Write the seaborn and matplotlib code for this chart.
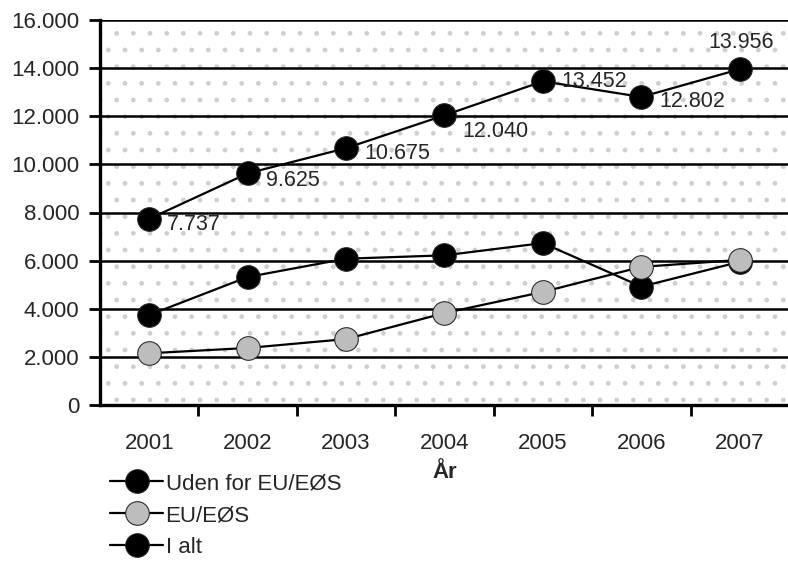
import numpy as np
import pandas as pd
import matplotlib
matplotlib.use("Agg")
import matplotlib.pyplot as plt
import seaborn as sns
from matplotlib.patches import Rectangle
from matplotlib.ticker import FuncFormatter, FixedLocator

# ==================================
# DATA
# ==================================

years = ["2001", "2002", "2003", "2004", "2005", "2006", "2007"]
uden_eu = [3740, 5320, 6080, 6220, 6730, 4920, 5950]
eu_eos = [2150, 2370, 2740, 3820, 4700, 5740, 6030]
i_alt = [7737, 9625, 10675, 12040, 13452, 12802, 13956]

series_names = ["Uden for EU/EØS", "EU/EØS", "I alt"]

df = pd.DataFrame({
    "År": years * 3,
    "value": uden_eu + eu_eos + i_alt,
    "serie": np.repeat(series_names, len(years)),
})

# ==================================
# STYLE
# ==================================

sns.set_style("white")
plt.rcParams["font.family"] = ["Liberation Sans", "DejaVu Sans"]

fig = plt.figure(figsize=(7.88, 5.62), dpi=100)
ax = fig.add_axes([100 / 788, 1 - 405 / 562, 689 / 788, 385 / 562])

# speckled background
ax.add_patch(Rectangle((0, 0), 1, 1, transform=ax.transAxes, facecolor="white",
                       hatch=".", edgecolor="#cfcfcf", linewidth=0, zorder=0))

palette = {"Uden for EU/EØS": "black", "EU/EØS": "black", "I alt": "black"}

sns.lineplot(
    data=df, x="År", y="value", hue="serie", style="serie",
    hue_order=["I alt", "Uden for EU/EØS", "EU/EØS"],
    style_order=["I alt", "Uden for EU/EØS", "EU/EØS"],
    palette=palette, markers={"Uden for EU/EØS": "o", "EU/EØS": "o", "I alt": "o"},
    dashes=False, linewidth=1.6, markersize=17, markeredgecolor="#222222",
    ax=ax, zorder=3,
)

# marker fills
face = {"Uden for EU/EØS": "black", "EU/EØS": "#bdbdbd", "I alt": "black"}
for line, name in zip(ax.lines, ["I alt", "Uden for EU/EØS", "EU/EØS"]):
    line.set_markerfacecolor(face[name])

# data labels for total
for i, v in enumerate(i_alt):
    lab = f"{v:,}".replace(",", ".")
    if i == len(i_alt) - 1:
        ax.annotate(lab, (i, v), xytext=(1, 19), textcoords="offset points",
                    ha="center", va="center", fontsize=15.5, zorder=5)
    else:
        dy = {0: -4, 1: -5, 2: -4, 3: -12, 4: 0, 5: -3}[i]
        ax.annotate(lab, (i, v), xytext=(13, dy), textcoords="offset points",
                    ha="left", va="center", fontsize=15.5, zorder=5)

# ==================================
# AXES
# ==================================

ax.set_xlim(-0.5, 6.5)
ax.set_ylim(0, 16000)
ax.set_yticks(np.arange(0, 16001, 2000))
ax.yaxis.set_major_formatter(FuncFormatter(lambda v, p: f"{v:,.0f}".replace(",", ".")))
ax.grid(axis="y", color="black", linewidth=1.8, zorder=1)
ax.grid(axis="x", visible=False)
ax.set_axisbelow(True)

ax.xaxis.set_minor_locator(FixedLocator(np.arange(0.5, 6, 1)))
ax.tick_params(axis="x", which="major", length=0, labelsize=16, pad=20)
ax.tick_params(axis="x", which="minor", length=8, width=2, color="black", direction="out")
ax.tick_params(axis="y", length=8, width=2, color="black", direction="out", labelsize=16, pad=7)
ax.tick_params(axis="both", bottom=True, left=True, which="both")

for s in ["top", "right"]:
    ax.spines[s].set_visible(False)
for s in ["left", "bottom"]:
    ax.spines[s].set_color("black")
    ax.spines[s].set_linewidth(2.4)

ax.set_xlabel("År", fontsize=16, fontweight="bold", labelpad=6)
ax.set_ylabel("")

# ==================================
# LEGEND
# ==================================

handles, labels = ax.get_legend_handles_labels()
ax.get_legend().remove()
hmap = dict(zip(labels, handles))
leg_handles = []
for name in series_names:
    h = hmap[name]
    h.set_markersize(17)
    h.set_markerfacecolor(face[name])
    h.set_markeredgecolor("#222222")
    h.set_linewidth(1.6)
    leg_handles.append(h)

fig.legend(leg_handles, series_names, loc="upper left",
           bbox_to_anchor=(110 / 788, 1 - 473 / 562), frameon=False,
           fontsize=16, handlelength=2.4, handletextpad=0.1,
           labelspacing=0.5, borderaxespad=0, borderpad=0)

fig.savefig("out.png", dpi=100)
